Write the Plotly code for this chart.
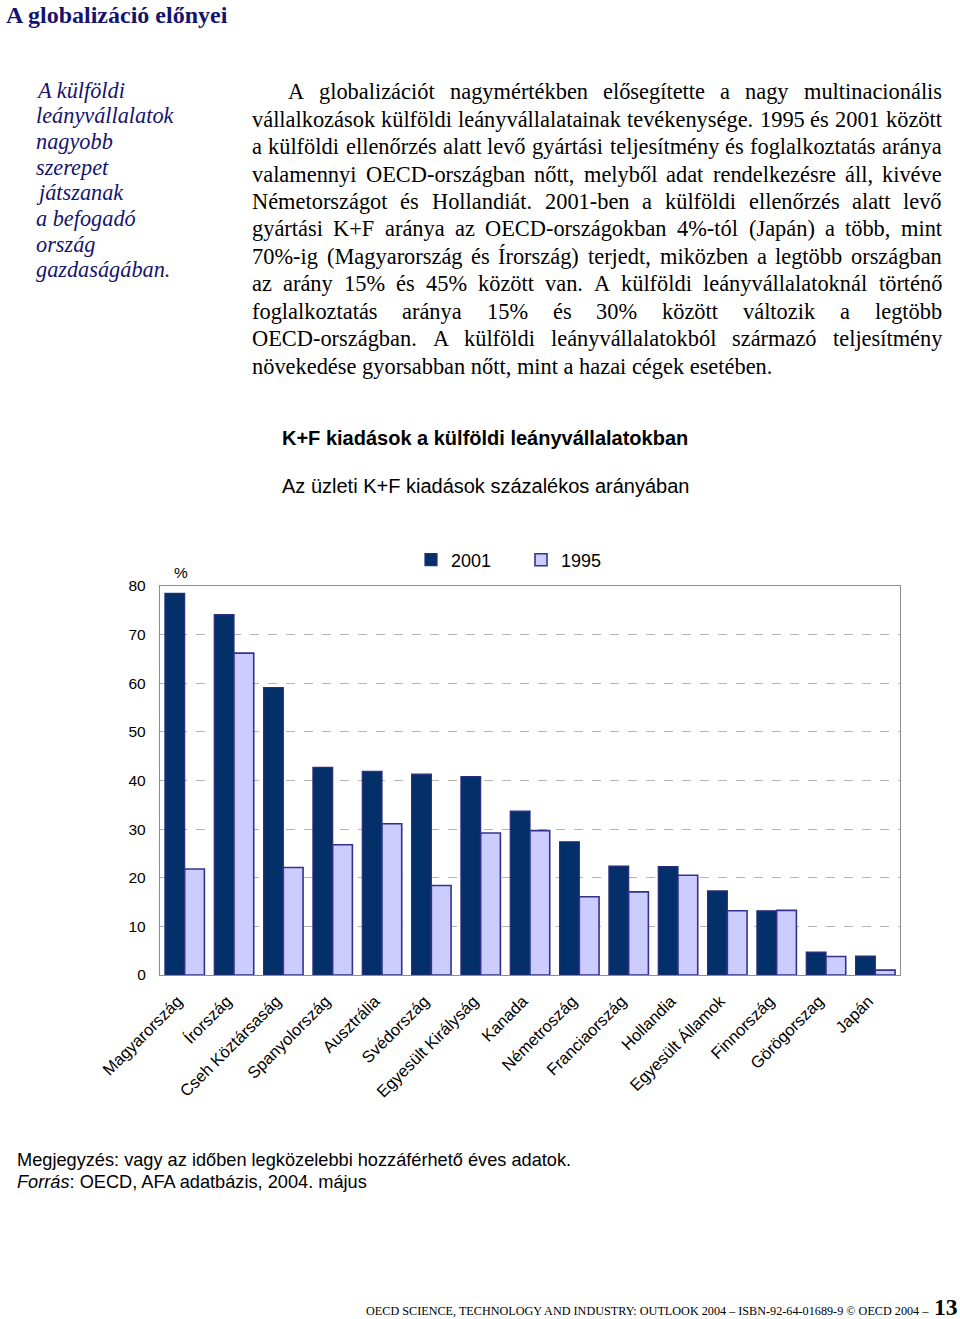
import glob
import struct
import plotly.graph_objects as go

W, H = 960, 1319

# ---------------- data ----------------
countries = ["Magyarország", "Írország", "Cseh Köztársaság", "Spanyolország", "Ausztrália",
             "Svédország", "Egyesült Királyság", "Kanada", "Németroszág", "Franciaország",
             "Hollandia", "Egyesült Államok", "Finnország", "Görögorszag", "Japán"]
v2001 = [78.5, 74.1, 59.1, 42.7, 41.9, 41.3, 40.8, 33.7, 27.4, 22.4, 22.3, 17.3, 13.2, 4.7, 3.9]
v1995 = [21.8, 66.2, 22.1, 26.8, 31.1, 18.4, 29.2, 29.7, 16.1, 17.1, 20.5, 13.2, 13.3, 3.8, 1.0]
series_names = ["2001", "1995"]
y_ticks = [0, 10, 20, 30, 40, 50, 60, 70, 80]

title_text = "A globalizáció előnyei"
side_lines = ["A külföldi", "leányvállalatok", "nagyobb", "szerepet", "játszanak",
              "a befogadó", "ország", "gazdaságában."]
para_lines = [
    "A globalizációt nagymértékben elősegítette a nagy multinacionális",
    "vállalkozások külföldi leányvállalatainak tevékenysége. 1995 és 2001 között",
    "a külföldi ellenőrzés alatt levő gyártási teljesítmény és foglalkoztatás aránya",
    "valamennyi OECD-országban nőtt, melyből adat rendelkezésre áll, kivéve",
    "Németországot és Hollandiát. 2001-ben a külföldi ellenőrzés alatt levő",
    "gyártási K+F aránya az OECD-országokban 4%-tól (Japán) a több, mint",
    "70%-ig (Magyarország és Írország) terjedt, miközben a legtöbb országban",
    "az arány 15% és 45% között van. A külföldi leányvállalatoknál történő",
    "foglalkoztatás aránya 15% és 30% között változik a legtöbb",
    "OECD-országban. A külföldi leányvállalatokból származó teljesítmény",
    "növekedése gyorsabban nőtt, mint a hazai cégek esetében.",
]
chart_title = "K+F kiadások a külföldi leányvállalatokban"
chart_subtitle = "Az üzleti K+F kiadások százalékos arányában"
note1 = "Megjegyzés: vagy az időben legközelebbi hozzáférhető éves adatok."
note2 = "<i>Forrás</i>: OECD, AFA adatbázis, 2004. május"
footer = "OECD SCIENCE, TECHNOLOGY AND INDUSTRY: OUTLOOK 2004 – ISBN-92-64-01689-9 © OECD 2004 –"
page_no = "13"

SERIF = "Liberation Serif, Times New Roman, serif"
SANS = "Liberation Sans, Arial, sans-serif"
NAVY = "#14146e"


# ------------- font metrics (for justified text) -------------
def load_font(name):
    paths = glob.glob("/usr/share/fonts/**/" + name, recursive=True) + \
        glob.glob("/usr/local/share/fonts/**/" + name, recursive=True)
    if not paths:
        return None
    try:
        data = open(paths[0], "rb").read()
        num = struct.unpack(">H", data[4:6])[0]
        tables = {}
        for i in range(num):
            tag, cs, off, ln = struct.unpack(">4sIII", data[12 + 16 * i:28 + 16 * i])
            tables[tag.decode("latin1")] = off
        upem = struct.unpack(">H", data[tables["head"] + 18:tables["head"] + 20])[0]
        nhm = struct.unpack(">H", data[tables["hhea"] + 34:tables["hhea"] + 36])[0]
        hm = tables["hmtx"]
        adv = [struct.unpack(">H", data[hm + 4 * i:hm + 4 * i + 2])[0] for i in range(nhm)]
        cm = tables["cmap"]
        ntab = struct.unpack(">H", data[cm + 2:cm + 4])[0]
        sub = None
        for i in range(ntab):
            pid, eid, off = struct.unpack(">HHI", data[cm + 4 + 8 * i:cm + 12 + 8 * i])
            if pid == 3 and eid == 1:
                sub = cm + off
        if sub is None or struct.unpack(">H", data[sub:sub + 2])[0] != 4:
            return None
        segx2 = struct.unpack(">H", data[sub + 6:sub + 8])[0]
        seg = segx2 // 2
        ends = struct.unpack(">%dH" % seg, data[sub + 14:sub + 14 + segx2])
        so = sub + 16 + segx2
        starts = struct.unpack(">%dH" % seg, data[so:so + segx2])
        do = so + segx2
        deltas = struct.unpack(">%dh" % seg, data[do:do + segx2])
        ro = do + segx2
        ros = struct.unpack(">%dH" % seg, data[ro:ro + segx2])

        def gid(c):
            for i in range(seg):
                if ends[i] >= c:
                    if starts[i] > c:
                        return 0
                    if ros[i] == 0:
                        return (c + deltas[i]) & 0xFFFF
                    addr = ro + 2 * i + ros[i] + 2 * (c - starts[i])
                    g = struct.unpack(">H", data[addr:addr + 2])[0]
                    return (g + deltas[i]) & 0xFFFF if g else 0
            return 0

        def width(s, size):
            t = 0
            for ch in s:
                g = gid(ord(ch))
                t += adv[g] if g < nhm else adv[-1]
            return t * size / upem
        return width
    except Exception:
        return None


measure = load_font("LiberationSerif-Regular.ttf") or (lambda s, size: 0.45 * size * len(s))

# ---------------- figure ----------------
fig = go.Figure()
fig.add_trace(go.Bar(
    x=countries, y=v2001, name=series_names[0],
    marker=dict(color="#04306a", line=dict(color="#2c2c7c", width=1.2)),
    legend="legend",
))
fig.add_trace(go.Bar(
    x=countries, y=v1995, name=series_names[1],
    marker=dict(color="#ccccff", line=dict(color="#33338f", width=1.6)),
    legend="legend2",
))

px_l, px_r, px_t, px_b = 160, 900, 586, 975

fig.update_layout(
    width=W, height=H,
    margin=dict(l=0, r=0, t=0, b=0, pad=0, autoexpand=False),
    paper_bgcolor="white", plot_bgcolor="white",
    barmode="group", bargap=0.2, bargroupgap=0.0,
    font=dict(family=SANS, color="black"),
    xaxis=dict(
        domain=[px_l / W, px_r / W], automargin=False,
        showline=True, linecolor="#8c8c8c", linewidth=1.3, mirror=True,
        tickangle=-45, tickfont=dict(family=SANS, size=16.5, color="black"),
        ticks="", showgrid=False, ticklabelstandoff=9, ticklabelshift=-7,
    ),
    yaxis=dict(
        domain=[1 - px_b / H, 1 - px_t / H], automargin=False,
        range=[0, 80], tickvals=y_ticks,
        showline=True, linecolor="#8c8c8c", linewidth=1.3, mirror=True,
        showgrid=True, gridcolor="#b4b4b4", griddash="dash", gridwidth=1,
        zeroline=False, ticks="", ticklabelstandoff=10,
        tickfont=dict(family=SANS, size=15.5, color="black"),
    ),
    legend=dict(orientation="h", x=411 / W, y=1 - 560 / H, xanchor="left", yanchor="middle",
                font=dict(family=SANS, size=18, color="black"), bgcolor="rgba(0,0,0,0)"),
    legend2=dict(orientation="h", x=521 / W, y=1 - 560 / H, xanchor="left", yanchor="middle",
                 font=dict(family=SANS, size=18, color="black"), bgcolor="rgba(0,0,0,0)"),
    showlegend=True,
)

ann = []


def add_text(px, py, text, size, family, color="black", xanchor="left", bold=False, italic=False):
    if bold:
        text = "<b>" + text + "</b>"
    if italic:
        text = "<i>" + text + "</i>"
    ann.append(dict(x=px / W, y=1 - py / H, xref="paper", yref="paper", text=text,
                    showarrow=False, xanchor=xanchor, yanchor="middle",
                    font=dict(size=size, family=family, color=color)))


# title
add_text(4, 15, title_text, 24, SERIF, color=NAVY, bold=True)

# sidebar
for i, line in enumerate(side_lines):
    add_text(34, 90 + i * 25.7, line, 22.3, SERIF, color=NAVY, italic=True)

# main paragraph, justified
L, R = 251, 941
indent = 36
min_gap = 3.0
line_y0, line_dy = 92, 27.4
avail = [R - L - (indent if i == 0 else 0) for i in range(len(para_lines))]
sizes = []
for i in range(len(para_lines) - 1):
    words = para_lines[i].split(" ")
    w1 = sum(measure(w, 1.0) for w in words)
    sizes.append((avail[i] - min_gap * (len(words) - 1)) / w1)
fs = min(22.4, min(sizes))
for i, line in enumerate(para_lines):
    y = line_y0 + i * line_dy
    x0 = L + (indent if i == 0 else 0)
    if i == len(para_lines) - 1:
        add_text(x0 - 1, y, line, fs, SERIF)
        continue
    words = line.split(" ")
    ww = [measure(w, fs) for w in words]
    gap = (R - x0 - sum(ww)) / (len(words) - 1)
    x = x0
    for w, wd in zip(words, ww):
        add_text(x - 1, y, w, fs, SERIF)
        x += wd + gap

# chart titles
add_text(280, 438, chart_title, 20, SANS, bold=True)
add_text(280, 486, chart_subtitle, 20, SANS)
add_text(172, 572, "%", 15.5, SANS)

# notes
add_text(15, 1160, note1, 18.2, SANS)
add_text(15, 1182, note2, 18.2, SANS)

# footer
add_text(931, 1311, footer, 12.2, SERIF, xanchor="right")
add_text(932, 1307, page_no, 23.5, SERIF, bold=True)

fig.update_layout(annotations=ann)
fig.write_html(
    "out.html",
    config={"displayModeBar": False},
    post_script="document.body.style.margin='0';document.body.style.overflow='hidden';",
)
